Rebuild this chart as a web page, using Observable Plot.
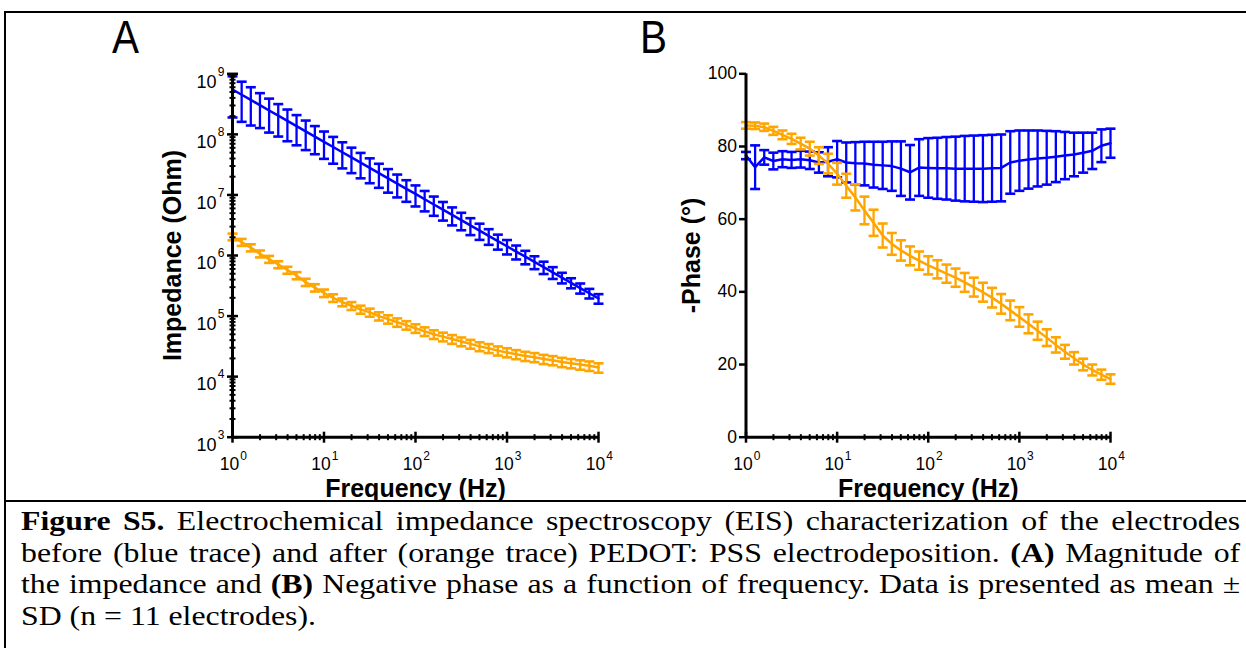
<!DOCTYPE html>
<html><head><meta charset="utf-8">
<script src="https://cdn.jsdelivr.net/npm/d3@7"></script>
<script src="https://cdn.jsdelivr.net/npm/@observablehq/plot@0.6"></script>
<style>
html,body{margin:0;padding:0;background:#fff;}
#fig{position:relative;width:1246px;height:648px;overflow:hidden;font-family:"Liberation Sans",Arial,sans-serif;}
.bt{position:absolute;left:4px;top:11px;width:1260px;height:2.3px;background:#000;}
.bl{position:absolute;left:4px;top:11px;width:2px;height:660px;background:#000;}
.bs{position:absolute;left:4px;top:500px;width:1260px;height:2.3px;background:#000;}
.panel{position:absolute;top:0;}
.lab{position:absolute;top:14px;font-family:"Liberation Sans",Arial,sans-serif;font-size:46px;line-height:46px;transform:scaleX(0.88);transform-origin:left top;}
#caption{position:absolute;left:21px;top:506px;width:1016px;transform:scaleX(1.2);transform-origin:left top;font-family:"Liberation Serif","Times New Roman",serif;font-size:26.5px;line-height:31.5px;color:#000;}
#caption .l{text-align:justify;text-align-last:justify;white-space:nowrap;}
#caption .last{text-align:left;white-space:nowrap;}
</style></head>
<body>
<div id="fig">
  <div class="bt"></div><div class="bl"></div><div class="bs"></div>
  <div class="lab" style="left:112px">A</div>
  <div class="lab" style="left:640px">B</div>
  <div id="panelA" class="panel" style="left:0px"></div>
  <div id="panelB" class="panel" style="left:600px"></div>
  <div id="caption">
    <div class="l"><b>Figure S5.</b> Electrochemical impedance spectroscopy (EIS) characterization of the electrodes</div>
    <div class="l">before (blue trace) and after (orange trace) PEDOT: PSS electrodeposition. <b>(A)</b> Magnitude of</div>
    <div class="l">the impedance and <b>(B)</b> Negative phase as a function of frequency. Data is presented as mean ±</div>
    <div class="last">SD (n = 11 electrodes).</div>
  </div>
</div>
<script>
// ---- data ----
const freqHz = [1,1.259,1.585,1.995,2.512,3.162,3.981,5.012,6.31,7.943,10,12.59,15.85,19.95,25.12,31.62,39.81,50.12,63.1,79.43,100,125.9,158.5,199.5,251.2,316.2,398.1,501.2,631,794.3,1000,1259,1585,1995,2512,3162,3981,5012,6310,7943,10000];

const zBlueMean = [5.50e8,4.51e8,3.70e8,3.03e8,2.48e8,2.04e8,1.67e8,1.37e8,1.12e8,9.20e7,7.54e7,6.18e7,5.07e7,4.16e7,3.41e7,2.79e7,2.29e7,1.88e7,1.54e7,1.26e7,1.04e7,8.49e6,6.96e6,5.71e6,4.68e6,3.84e6,3.15e6,2.58e6,2.11e6,1.73e6,1.42e6,1.16e6,9.55e5,7.83e5,6.42e5,5.26e5,4.32e5,3.54e5,2.90e5,2.38e5,1.95e5];
const zBlueSD = [3.6e8,2.9e8,2.3e8,1.76e8,1.41e8,1.12e8,9.0e7,7.1e7,5.7e7,4.5e7,3.6e7,2.9e7,2.33e7,1.87e7,1.53e7,1.23e7,9.8e6,7.9e6,6.3e6,4.9e6,3.95e6,3.14e6,2.44e6,1.94e6,1.54e6,1.23e6,9.8e5,7.7e5,6.1e5,4.8e5,3.8e5,3.0e5,2.4e5,1.88e5,1.48e5,1.16e5,8.6e4,6.7e4,5.5e4,4.3e4,3.5e4];

const zOrangeMean = [2.04e6,1.66e6,1.35e6,1.07e6,8.7e5,7.1e5,5.75e5,4.68e5,3.63e5,2.95e5,2.40e5,2.00e5,1.70e5,1.48e5,1.29e5,1.15e5,1.00e5,8.9e4,7.9e4,7.1e4,6.3e4,5.6e4,5.0e4,4.57e4,4.17e4,3.80e4,3.47e4,3.16e4,2.95e4,2.69e4,2.51e4,2.34e4,2.19e4,2.09e4,1.95e4,1.86e4,1.74e4,1.66e4,1.58e4,1.51e4,1.41e4];
const zOrangeSD = [2.6e5,2.2e5,1.8e5,1.4e5,1.15e5,9.4e4,7.6e4,6.3e4,5.0e4,4.1e4,3.4e4,2.9e4,2.5e4,2.2e4,1.95e4,1.75e4,1.55e4,1.4e4,1.25e4,1.13e4,1.02e4,9.1e3,8.2e3,7.5e3,6.9e3,6.3e3,5.8e3,5.3e3,5.0e3,4.6e3,4.3e3,4.0e3,3.8e3,3.6e3,3.4e3,3.2e3,3.05e3,2.9e3,2.8e3,2.7e3,2.5e3];

const phBlueMean = [77.5,74.3,77.0,76.0,76.5,76.3,76.5,76.2,75.6,75.8,76.5,75.6,75.4,75.3,75.0,74.8,74.6,73.9,72.9,74.2,74.1,74.0,74.0,73.9,73.9,73.9,73.9,74.0,74.1,75.6,76.1,76.4,76.7,76.9,77.2,77.5,77.8,78.3,78.8,80.2,80.9];
const phBlueSD = [1.0,6.0,2.0,2.3,2.2,2.2,2.3,2.4,2.8,4.0,5.0,5.5,5.8,6.0,6.3,6.5,6.8,7.5,7.5,7.8,8.2,8.4,8.6,8.8,9.0,9.1,9.2,9.2,9.2,8.6,8.3,8.0,7.7,7.4,7.0,6.5,6.0,5.5,5.0,4.5,4.0];

const phOrangeMean = [85.8,85.7,85.3,84.3,83.2,82.1,80.8,79.4,77.5,75.3,72.5,69.2,66.0,62.4,59.0,55.5,53.2,51.4,49.9,48.6,47.3,46.2,45.0,43.9,42.6,41.3,39.9,38.4,36.7,34.9,33.1,31.2,29.3,27.4,25.4,23.5,21.7,20.0,18.5,17.2,16.0];
const phOrangeSD = [0.9,0.9,1.0,1.1,1.2,1.4,1.6,1.9,2.3,2.7,3.0,3.3,3.6,3.8,3.6,3.3,3.0,2.8,2.6,2.5,2.5,2.5,2.5,2.5,2.6,2.6,2.6,2.7,2.7,2.7,2.7,2.6,2.5,2.3,2.1,1.9,1.7,1.6,1.5,1.4,1.3];

// ---- axes ----
const freqTicks = [1,10,100,1000,10000];
const zTicks = [1e3,1e4,1e5,1e6,1e7,1e8,1e9];
const phTicks = [0,20,40,60,80,100];
const minorMult = [2,3,4,5,6,7,8,9];

const BLUE = "#0000ff", ORANGE = "#ffa500";
const FONT = "'Liberation Sans', Arial, sans-serif";

const rows = (mean, sd) => freqHz.map((f, i) => ({f, m: mean[i], lo: mean[i] - sd[i], hi: mean[i] + sd[i]}));
const minorOf = (ticks) => ticks.slice(0, -1).flatMap(d => minorMult.map(k => k * d));

// custom symbols: horizontal and vertical line segments (half-length = r)
const hSeg = {draw(ctx, size) { const r = Math.sqrt(size / Math.PI); ctx.moveTo(-r, 0); ctx.lineTo(r, 0); }};
const vSeg = {draw(ctx, size) { const r = Math.sqrt(size / Math.PI); ctx.moveTo(0, -r); ctx.lineTo(0, r); }};
const lSeg = {draw(ctx, size) { const r = Math.sqrt(size / Math.PI); ctx.moveTo(-r, 0); ctx.lineTo(0, 0); }};

function series(data, color) {
  return [
    Plot.ruleX(data, {x: "f", y1: "lo", y2: "hi", stroke: color, strokeWidth: 2.3}),
    Plot.dot(data, {x: "f", y: "hi", symbol: hSeg, r: 5, stroke: color, strokeWidth: 2.6, fill: "none"}),
    Plot.dot(data, {x: "f", y: "lo", symbol: hSeg, r: 5, stroke: color, strokeWidth: 2.6, fill: "none"}),
    Plot.line(data, {x: "f", y: "m", stroke: color, strokeWidth: 2.5})
  ];
}

function freqAxis(yBase) {
  return [
    Plot.ruleY([yBase], {stroke: "#000", strokeWidth: 3}),
    Plot.dot(minorOf(freqTicks), {x: d => d, y: () => yBase, symbol: vSeg, r: 3, stroke: "#000", strokeWidth: 2}),
    Plot.dot(freqTicks, {x: d => d, y: () => yBase, symbol: vSeg, r: 5.5, stroke: "#000", strokeWidth: 2.5}),
    Plot.text(freqTicks, {x: d => d, y: () => yBase, text: () => "10", dy: 27, dx: -3, fontSize: 17.5}),
    Plot.text(freqTicks, {x: d => d, y: () => yBase, text: d => String(Math.round(Math.log10(d))), dy: 19, dx: 11, fontSize: 12}),
    Plot.text(["Frequency (Hz)"], {text: d => d, frameAnchor: "bottom", dy: 52, lineAnchor: "middle", fontSize: 25, fontWeight: "bold"})
  ];
}

function post(svg) {
  svg.style.overflow = "visible";
  return svg;
}

// ---- Panel A: impedance magnitude ----
const panelA = Plot.plot({
  width: 640, height: 500,
  marginLeft: 232, marginRight: 42, marginTop: 73.3, marginBottom: 63.3,
  style: {fontFamily: FONT, background: "transparent"},
  x: {type: "log", domain: [freqTicks[0], freqTicks[freqTicks.length - 1]], axis: null},
  y: {type: "log", domain: [zTicks[0], zTicks[zTicks.length - 1]], axis: null},
  marks: [
    ...series(rows(zBlueMean, zBlueSD), BLUE),
    ...series(rows(zOrangeMean, zOrangeSD), ORANGE),
    Plot.ruleX([freqTicks[0]], {stroke: "#000", strokeWidth: 3}),
    Plot.dot(minorOf(zTicks), {x: () => freqTicks[0], y: d => d, symbol: hSeg, r: 3, stroke: "#000", strokeWidth: 2}),
    Plot.dot(zTicks, {x: () => freqTicks[0], y: d => d, symbol: hSeg, r: 5.5, stroke: "#000", strokeWidth: 2.5}),
    Plot.text(zTicks, {x: () => freqTicks[0], y: d => d, text: () => "10", textAnchor: "end", dx: -16, dy: 8, fontSize: 18}),
    Plot.text(zTicks, {x: () => freqTicks[0], y: d => d, text: d => String(Math.round(Math.log10(d))), textAnchor: "end", dx: -8, dy: -2, fontSize: 12}),
    ...freqAxis(zTicks[0]),
    Plot.text(["Impedance (Ohm)"], {text: d => d, frameAnchor: "left", rotate: -90, textAnchor: "middle", dx: -60, fontSize: 25, fontWeight: "bold"})
  ]
});
document.getElementById("panelA").appendChild(post(panelA));

// ---- Panel B: negative phase ----
const panelB = Plot.plot({
  width: 646, height: 500,
  marginLeft: 145.5, marginRight: 136, marginTop: 73.3, marginBottom: 63.3,
  style: {fontFamily: FONT, background: "transparent"},
  x: {type: "log", domain: [freqTicks[0], freqTicks[freqTicks.length - 1]], axis: null},
  y: {domain: [phTicks[0], phTicks[phTicks.length - 1]], axis: null},
  marks: [
    ...series(rows(phBlueMean, phBlueSD), BLUE),
    ...series(rows(phOrangeMean, phOrangeSD), ORANGE),
    Plot.ruleX([freqTicks[0]], {stroke: "#000", strokeWidth: 3}),
    Plot.dot(phTicks, {x: () => freqTicks[0], y: d => d, symbol: lSeg, r: 7, stroke: "#000", strokeWidth: 2.5}),
    Plot.text(phTicks, {x: () => freqTicks[0], y: d => d, text: d => String(d), textAnchor: "end", dx: -9, fontSize: 17.5}),
    ...freqAxis(phTicks[0]),
    Plot.text(["-Phase (°)"], {text: d => d, frameAnchor: "left", rotate: -90, textAnchor: "middle", dx: -54, fontSize: 25, fontWeight: "bold"})
  ]
});
document.getElementById("panelB").appendChild(post(panelB));
</script>
</body></html>
